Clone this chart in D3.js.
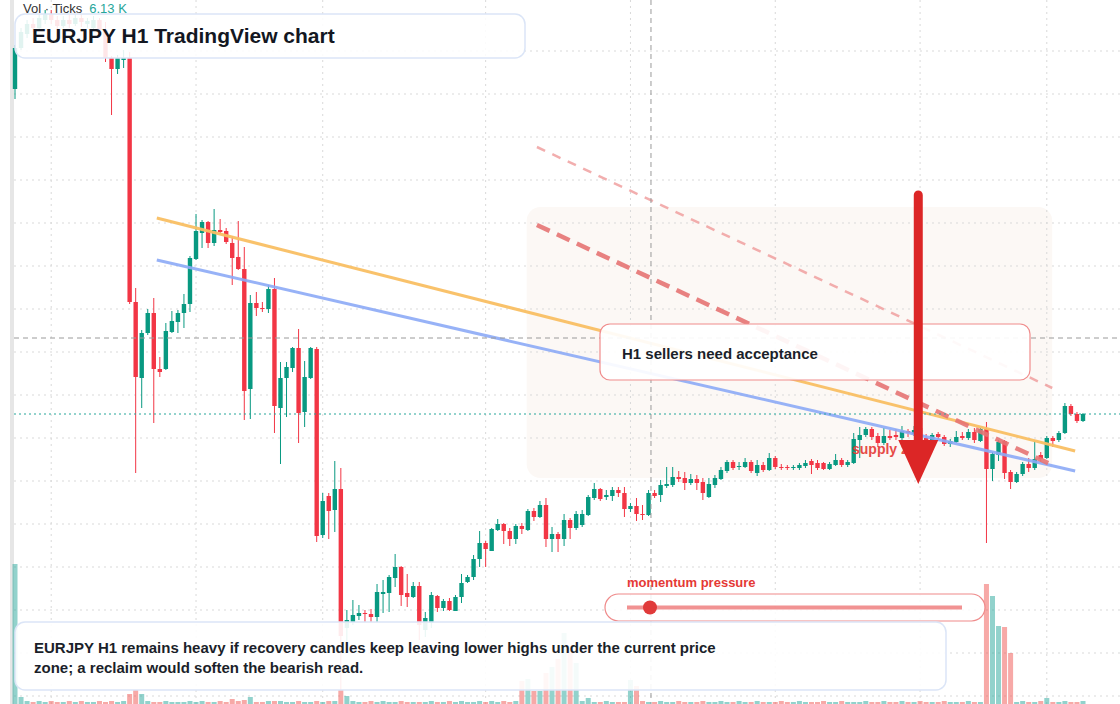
<!DOCTYPE html>
<html><head><meta charset="utf-8">
<script src="https://cdn.jsdelivr.net/npm/d3@7"></script>
<style>html,body{margin:0;padding:0;background:#fff;overflow:hidden}svg{display:block;font-family:"Liberation Sans",Arial,sans-serif}</style>
</head><body>
<svg id="c" width="1120" height="704"></svg>
<script>
// [open, high, low, close]
const ohlc = [
[169.11,169.55,169.01,169.52],[169.52,169.72,169.50,169.68],[169.66,169.80,169.62,169.76],[169.76,169.82,169.68,169.72],
[169.72,169.86,169.70,169.82],[169.80,169.90,169.76,169.86],[169.86,169.90,169.76,169.80],[169.80,169.84,169.70,169.74],
[169.74,169.84,169.72,169.80],[169.80,169.85,169.72,169.76],[169.76,169.86,169.74,169.82],[169.82,169.86,169.73,169.78],
[169.76,169.82,169.72,169.79],[169.72,169.84,169.70,169.80],[169.80,169.82,169.66,169.70],[169.70,169.78,169.38,169.42],
[169.42,169.44,168.85,169.31],[169.31,169.45,169.26,169.42],[169.40,169.50,169.32,169.42],[169.42,169.48,166.96,166.98],
[166.98,167.12,165.27,166.23],[166.22,166.70,165.92,166.67],[166.67,166.91,166.65,166.87],[166.87,167.02,165.77,166.31],
[166.31,166.43,166.23,166.28],[166.31,166.77,166.30,166.69],[166.68,166.89,166.67,166.79],[166.78,166.90,166.67,166.87],
[166.87,167.06,166.72,166.96],[166.96,167.44,166.88,167.42],[167.41,167.86,167.40,167.69],[167.67,167.80,167.52,167.78],
[167.78,167.79,167.52,167.57],[167.57,167.91,167.54,167.70],[167.70,167.81,167.66,167.68],[167.69,167.72,167.56,167.58],
[167.57,167.64,167.15,167.42],[167.43,167.79,167.30,167.31],[167.31,167.53,165.80,166.09],[166.11,167.05,165.81,166.97],
[166.97,167.08,166.84,166.92],[166.92,166.98,166.88,166.91],[166.91,167.15,166.87,167.11],[167.11,167.22,165.67,165.94],
[165.92,166.38,165.36,166.22],[166.22,166.38,165.83,166.33],[166.32,166.53,166.28,166.52],[166.52,166.71,165.57,165.87],
[165.88,166.39,165.73,166.23],[166.22,166.53,166.21,166.52],[166.51,166.53,164.58,164.64],[164.65,165.07,164.62,164.99],
[165.04,165.07,164.61,164.89],[164.90,165.39,164.68,165.11],[165.11,165.32,163.10,163.64],[163.72,163.90,163.50,163.80],
[163.78,164.00,163.75,163.85],[163.84,163.95,163.80,163.87],[163.87,163.90,163.78,163.86],[163.86,163.91,163.78,163.83],
[163.83,164.16,163.78,164.08],[164.06,164.20,163.87,164.08],[164.07,164.25,163.88,164.23],[164.22,164.46,164.13,164.33],
[164.33,164.34,163.94,164.05],[164.07,164.26,163.93,164.03],[164.03,164.18,164.02,164.14],[164.14,164.18,163.60,163.75],
[163.70,163.88,163.63,163.82],[163.77,164.08,163.72,164.05],[164.04,164.05,163.88,163.92],[163.92,164.01,163.89,163.99],
[163.99,164.02,163.89,163.90],[163.89,164.05,163.89,164.03],[164.03,164.26,163.97,164.17],[164.18,164.25,164.17,164.23],
[164.23,164.45,164.20,164.41],[164.41,164.69,164.33,164.57],[164.57,164.59,164.33,164.51],[164.49,164.72,164.49,164.71],
[164.70,164.81,164.69,164.76],[164.76,164.77,164.56,164.69],[164.69,164.72,164.54,164.61],[164.61,164.76,164.56,164.74],
[164.74,164.77,164.66,164.71],[164.70,164.91,164.69,164.89],[164.89,164.92,164.79,164.83],[164.83,164.99,164.82,164.95],
[164.95,165.02,164.53,164.61],[164.61,164.73,164.48,164.66],[164.66,164.68,164.48,164.61],[164.61,164.86,164.54,164.80],
[164.80,164.82,164.61,164.72],[164.72,164.89,164.70,164.86],[164.75,164.90,164.73,164.86],[164.85,165.05,164.84,165.03],
[165.02,165.17,165.00,165.11],[165.11,165.12,164.99,165.01],[165.03,165.10,165.00,165.05],[165.04,165.13,164.99,165.10],
[165.10,165.13,165.03,165.07],[165.07,165.13,164.83,164.91],[164.91,164.97,164.88,164.94],[164.94,165.02,164.79,164.86],
[164.86,164.95,164.80,164.85],[164.85,165.10,164.84,165.07],[165.07,165.10,165.02,165.04],[165.05,165.20,164.98,165.15],
[165.14,165.33,165.12,165.16],[165.15,165.33,165.13,165.23],[165.23,165.29,165.18,165.21],[165.22,165.28,165.10,165.17],
[165.17,165.26,165.15,165.21],[165.21,165.25,165.10,165.17],[165.18,165.22,165.00,165.07],[165.03,165.22,165.02,165.16],
[165.15,165.25,165.12,165.22],[165.21,165.33,165.20,165.30],[165.29,165.40,165.27,165.38],[165.38,165.40,165.30,165.32],
[165.33,165.38,165.30,165.34],[165.33,165.42,165.32,165.38],[165.38,165.40,165.27,165.29],[165.27,165.40,165.24,165.35],
[165.35,165.38,165.28,165.30],[165.30,165.47,165.29,165.42],[165.42,165.44,165.31,165.33],[165.33,165.36,165.30,165.32],
[165.33,165.35,165.30,165.32],[165.32,165.35,165.30,165.33],[165.32,165.37,165.30,165.35],[165.34,165.40,165.32,165.37],
[165.39,165.41,165.26,165.35],[165.37,165.40,165.30,165.32],[165.37,165.38,165.30,165.31],[165.31,165.38,165.30,165.36],
[165.35,165.46,165.34,165.40],[165.40,165.42,165.33,165.35],[165.35,165.40,165.33,165.38],[165.37,165.67,165.36,165.61],
[165.60,165.73,165.42,165.65],[165.65,165.73,165.63,165.71],[165.71,165.73,165.60,165.63],[165.64,165.67,165.53,165.57],
[165.57,165.72,165.55,165.64],[165.64,165.70,165.60,165.62],[165.65,165.71,165.60,165.63],[165.62,165.74,165.60,165.69],
[165.69,165.71,165.63,165.67],[165.66,165.74,165.64,165.70],[165.72,165.75,165.58,165.60],[165.62,165.66,165.56,165.60],
[165.58,165.67,165.57,165.65],[165.66,165.68,165.61,165.63],[165.63,165.65,165.54,165.56],[165.56,165.61,165.53,165.59],
[165.58,165.69,165.57,165.63],[165.64,165.68,165.60,165.62],[165.62,165.71,165.60,165.68],[165.68,165.72,165.57,165.60],
[165.59,165.72,165.58,165.71],[165.71,165.78,164.57,165.31],[165.31,165.48,165.19,165.46],[165.45,165.60,165.39,165.58],
[165.59,165.60,165.21,165.27],[165.28,165.30,165.11,165.18],[165.18,165.28,165.17,165.26],[165.26,165.38,165.24,165.36],
[165.36,165.42,165.28,165.32],[165.32,165.59,165.30,165.41],[165.45,165.48,165.38,165.41],[165.42,165.64,165.41,165.62],
[165.62,165.64,165.53,165.59],[165.60,165.69,165.58,165.67],[165.67,165.97,165.66,165.94],[165.94,165.96,165.84,165.86],
[165.86,165.88,165.77,165.79],[165.79,165.87,165.78,165.86]
];
const volumes = [
140,7,3,2,3,2,3,2,2,3,2,3,2,2,3,2,3,2,3,10,
14,10,3,2,2,3,2,2,2,3,2,3,2,2,3,2,5,3,4,7,
2,2,3,3,3,2,2,3,2,2,3,2,3,3,14,8,3,2,2,3,
2,3,2,2,3,2,2,2,2,3,2,2,3,2,3,2,2,3,2,3,
2,3,2,3,23,25,13,13,31,37,45,71,55,41,3,6,2,2,3,2,
2,2,24,18,3,2,2,3,2,2,3,2,2,2,3,2,2,3,2,2,
3,2,2,3,2,2,2,3,2,2,3,2,2,2,3,2,2,3,2,2,
2,3,2,2,3,2,2,3,2,2,3,2,2,2,3,2,2,2,3,2,
2,120,108,78,77,51,2,3,2,2,3,6,2,2,3,2,2,3
];
const gridPrices = [169.49,169.06,168.63,168.20,167.77,167.34,166.91,166.48,166.05,165.62,165.19,164.76,164.33,163.90,163.47,163.04];
const gridIndex = [6,30,51,78,102,126,150,171];
const orangeLine = [[23.5,167.82],[175.7,165.49]];
const blueLine = [[23.5,167.40],[175.7,165.29]];
const redDashed = [[86.5,167.75],[171.9,165.35]];
const redDashedLight = [[86.5,168.53],[171.9,166.12]];
const supplyZone = {i0:84.8,i1:171.9,top:167.93,bottom:165.22};
const arrowPts = {i:149.7, from:168.05, base:165.60, tip:165.16};
const crosshair = {i:105.4, price:166.62};
const lastPrice = 165.86;

const UP="#089981", DN="#f23645";
const svg = d3.select("#c");
const n = ohlc.length;
const x = d3.scaleLinear().domain([0,n-1]).range([15,1083]);
const y = d3.scaleLinear().domain([170,163]).range([0,700]);
const yv = d3.scaleLinear().domain([0,140]).range([704,564]);

svg.append("rect").attr("x",10).attr("y",0).attr("width",4).attr("height",704).attr("fill","#e6e6e6");
// supply zone
svg.append("rect").attr("x",x(supplyZone.i0)).attr("y",y(supplyZone.top))
 .attr("width",x(supplyZone.i1)-x(supplyZone.i0)).attr("height",y(supplyZone.bottom)-y(supplyZone.top))
 .attr("rx",14).attr("fill","#fcf8f5");
const g = svg.append("g");
g.selectAll(".hg").data(gridPrices).join("line").attr("x1",14).attr("x2",1120)
 .attr("y1",d=>y(d)).attr("y2",d=>y(d)).attr("stroke","#d9d9d9").attr("stroke-dasharray","2,4");
g.selectAll(".vg").data(gridIndex).join("line").attr("x1",d=>x(d)).attr("x2",d=>x(d))
 .attr("y1",0).attr("y2",704).attr("stroke","#d9d9d9").attr("stroke-dasharray","2,4");

// volume
svg.append("g").selectAll("rect").data(volumes).join("rect")
 .attr("x",(d,i)=>x(i)-2.5).attr("width",5).attr("y",d=>yv(d)).attr("height",d=>704-yv(d))
 .attr("fill",(d,i)=>ohlc[i][3]>=ohlc[i][0]?"rgba(38,166,154,0.5)":"rgba(239,83,80,0.5)");

// candles
const cg = svg.append("g");
cg.selectAll("line").data(ohlc).join("line")
 .attr("x1",(d,i)=>x(i)).attr("x2",(d,i)=>x(i)).attr("y1",d=>y(d[1])).attr("y2",d=>y(d[2]))
 .attr("stroke",d=>d[3]>=d[0]?UP:DN).attr("stroke-width",1);
cg.selectAll("rect").data(ohlc).join("rect")
 .attr("x",(d,i)=>x(i)-2.2).attr("width",4.4)
 .attr("y",d=>y(Math.max(d[0],d[3]))).attr("height",d=>Math.max(1,Math.abs(y(d[0])-y(d[3]))))
 .attr("fill",d=>d[3]>=d[0]?UP:DN);

const line = d3.line().x(d=>x(d[0])).y(d=>y(d[1]));
svg.append("path").attr("d",line(redDashedLight)).attr("stroke","#ef9a9a").attr("stroke-width",2.5).attr("stroke-dasharray","9,8").attr("fill","none").attr("opacity",0.8);
svg.append("path").attr("d",line(orangeLine)).attr("stroke","#f9bf63").attr("stroke-width",3).attr("fill","none").attr("opacity",0.95);
svg.append("path").attr("d",line(blueLine)).attr("stroke","#8caaf6").attr("stroke-width",3).attr("fill","none").attr("opacity",0.9);
svg.append("path").attr("d",line(redDashed)).attr("stroke","#e57373").attr("stroke-width",4.5).attr("stroke-dasharray","14,8").attr("fill","none").attr("opacity",0.9);

// crosshair + last price
svg.append("line").attr("x1",x(crosshair.i)).attr("x2",x(crosshair.i)).attr("y1",0).attr("y2",704).attr("stroke","#9a9a9a").attr("stroke-dasharray","5,4");
svg.append("line").attr("x1",14).attr("x2",1120).attr("y1",y(crosshair.price)).attr("y2",y(crosshair.price)).attr("stroke","#9a9a9a").attr("stroke-dasharray","5,4");
svg.append("line").attr("x1",14).attr("x2",1120).attr("y1",y(lastPrice)).attr("y2",y(lastPrice)).attr("stroke","#26a69a").attr("stroke-dasharray","2,3");

// supply zone label
svg.append("text").attr("x",852).attr("y",454).attr("fill","#e53935").attr("font-size",14).attr("font-weight","bold").attr("opacity",0.9).text("supply zone");

// callout
svg.append("rect").attr("x",600).attr("y",324).attr("width",430).attr("height",56).attr("rx",10)
 .attr("fill","rgba(255,255,255,0.92)").attr("stroke","#f08c8c").attr("stroke-width",1.2);
svg.append("text").attr("x",622).attr("y",359).attr("font-size",15).attr("font-weight","bold").attr("fill","#1b1f2a").text("H1 sellers need acceptance");

// arrow
const ax = x(arrowPts.i);
svg.append("line").attr("x1",ax).attr("x2",ax).attr("y1",y(arrowPts.from)).attr("y2",y(arrowPts.base)+2)
 .attr("stroke","#dc2626").attr("stroke-width",9).attr("stroke-linecap","round");
svg.append("path").attr("d",`M${ax-20},${y(arrowPts.base)} L${ax+20},${y(arrowPts.base)} L${ax},${y(arrowPts.tip)} Z`).attr("fill","#dc2626");

// momentum pill
svg.append("text").attr("x",627).attr("y",587).attr("font-size",13).attr("font-weight","bold").attr("fill","#e53935").text("momentum pressure");
svg.append("rect").attr("x",605).attr("y",594).attr("width",380).attr("height",27).attr("rx",13.5)
 .attr("fill","rgba(255,255,255,0.85)").attr("stroke","#ef8a8a").attr("stroke-width",1.2);
svg.append("line").attr("x1",627).attr("x2",962).attr("y1",607.5).attr("y2",607.5).attr("stroke","#ef7f7f").attr("stroke-width",4).attr("opacity",0.85);
svg.append("circle").attr("cx",650).attr("cy",607.5).attr("r",7).attr("fill","#e03a3a");

// bottom note
svg.append("rect").attr("x",15).attr("y",622).attr("width",931).attr("height",68).attr("rx",10)
 .attr("fill","rgba(255,255,255,0.9)").attr("stroke","#dbe5f7").attr("stroke-width",1.5);
const nt = svg.append("text").attr("font-size",15).attr("font-weight","bold").attr("fill","#1b1f2a");
nt.append("tspan").attr("x",34).attr("y",653).text("EURJPY H1 remains heavy if recovery candles keep leaving lower highs under the current price");
nt.append("tspan").attr("x",34).attr("y",673).text("zone; a reclaim would soften the bearish read.");

// title
svg.append("rect").attr("x",15).attr("y",14).attr("width",510).attr("height",44).attr("rx",10)
 .attr("fill","rgba(255,255,255,0.88)").attr("stroke","#dbe5f7").attr("stroke-width",1.5);
svg.append("text").attr("x",32).attr("y",43).attr("font-size",21).attr("font-weight","bold").attr("fill","#131722").text("EURJPY H1 TradingView chart");
const vt = svg.append("text").attr("x",23).attr("y",13).attr("font-size",13).attr("fill","#333");
vt.append("tspan").text("Vol · Ticks");
vt.append("tspan").attr("dx",7).attr("fill","#26a69a").text("6.13 K");
</script>
</body></html>
